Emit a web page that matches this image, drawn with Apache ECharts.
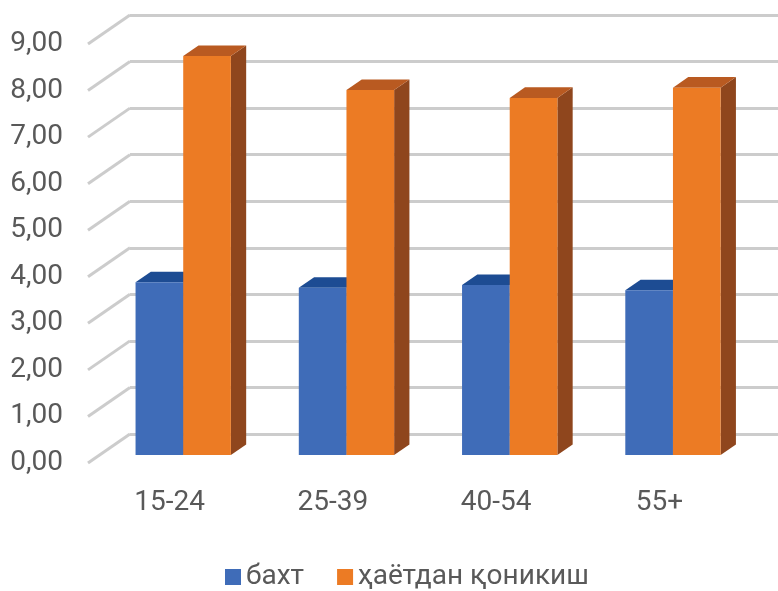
<!DOCTYPE html>
<html>
<head>
<meta charset="utf-8">
<script src="https://cdn.jsdelivr.net/npm/echarts@6/dist/echarts.min.js"></script>
<style>html,body{margin:0;padding:0;background:#fff;}#c{width:778px;height:591px;}</style>
</head>
<body>
<div id="c"></div>
<script>
const categories = ['15-24', '25-39', '40-54', '55+'];
const seriesNames = ['бахт', 'ҳаётдан қоникиш'];
const bakht = [3.71, 3.59, 3.65, 3.54];
const satisfaction = [8.57, 7.84, 7.67, 7.89];
const yTicks = [0, 1, 2, 3, 4, 5, 6, 7, 8, 9];

// 3D projection constants (layout)
const DX = 42, DY = -29;   // full depth offset from front floor to back wall
const F0 = 0.276, F1 = 0.64; // bar depth span as fraction of total depth
const BAR_FRAC = 0.292;      // bar width as fraction of category band
const BAR_SHIFT = 2;

const FONT = 'Roboto';
const TXT = '#595959';

const palettes = [
  { front: '#3f6cb8', top: '#1d4c93', side: '#2b5291' },
  { front: '#ec7b24', top: '#b95a21', side: '#8f461d' }
];

function barRender(idx) {
  const pal = palettes[idx];
  return function (params, api) {
    const cat = api.value(0), v = api.value(1);
    const c0 = api.coord([cat, 0]);
    const c1 = api.coord([cat, v]);
    const band = api.size([1, 0])[0];
    const w = band * BAR_FRAC;
    const x0 = c0[0] + (idx === 0 ? -w : 0) + DX * F0 + BAR_SHIFT;
    const yb = c0[1] + DY * F0;
    const yt = c1[1] + DY * F0;
    const ddx = DX * (F1 - F0), ddy = DY * (F1 - F0);
    return {
      type: 'group',
      children: [
        { type: 'polygon', shape: { points: [[x0 + w, yt], [x0 + w + ddx, yt + ddy], [x0 + w + ddx, yb + ddy], [x0 + w, yb]] }, style: { fill: pal.side } },
        { type: 'polygon', shape: { points: [[x0, yt], [x0 + w, yt], [x0 + w + ddx, yt + ddy], [x0 + ddx, yt + ddy]] }, style: { fill: pal.top } },
        { type: 'rect', shape: { x: x0, y: yt, width: w, height: yb - yt }, style: { fill: pal.front } }
      ]
    };
  };
}

function diagRender(params, api) {
  const v = api.value(0);
  const p = api.coord([0, v]);
  const x = params.coordSys.x;
  return {
    type: 'line',
    shape: { x1: x, y1: p[1], x2: x + DX, y2: p[1] + DY },
    style: { stroke: '#cccccc', lineWidth: 3 }
  };
}

const chart = echarts.init(document.getElementById('c'));
chart.setOption({
  animation: false,
  backgroundColor: '#fff',
  textStyle: { fontFamily: FONT },
  legend: {
    data: seriesNames,
    left: 220, top: 558,
    icon: 'rect', itemWidth: 16, itemHeight: 16, itemGap: 33,
    textStyle: { fontSize: 28, color: TXT, fontFamily: FONT }
  },
  grid: [
    { left: 88, right: 37, top: 44, bottom: 128 },
    { left: 130, right: -5, top: 15, bottom: 157 }
  ],
  xAxis: [
    { type: 'category', gridIndex: 0, data: categories,
      axisLine: { show: false }, axisTick: { show: false },
      axisLabel: { fontSize: 28, color: TXT, margin: 26, fontFamily: FONT } },
    { type: 'category', gridIndex: 1, data: categories, show: false }
  ],
  yAxis: [
    { type: 'value', gridIndex: 0, min: 0, max: 9, interval: 1,
      axisLine: { show: false }, axisTick: { show: false }, splitLine: { show: false },
      axisLabel: { fontSize: 28, color: TXT, margin: 25, fontFamily: FONT,
        formatter: v => v.toFixed(2).replace('.', ',') } },
    { type: 'value', gridIndex: 1, min: 0, max: 9, interval: 1,
      axisLine: { show: false }, axisTick: { show: false }, axisLabel: { show: false },
      splitLine: { show: true, lineStyle: { color: '#cccccc', width: 3 } } }
  ],
  series: [
    { type: 'custom', name: 'walls', xAxisIndex: 0, yAxisIndex: 0, z: 1,
      data: yTicks.map(v => [v]), encode: { y: 0 }, renderItem: diagRender, silent: true },
    { type: 'custom', name: seriesNames[0], xAxisIndex: 0, yAxisIndex: 0, z: 3,
      itemStyle: { color: '#3f6cb8' },
      data: bakht.map((v, i) => [i, v]), encode: { x: 0, y: 1 }, renderItem: barRender(0) },
    { type: 'custom', name: seriesNames[1], xAxisIndex: 0, yAxisIndex: 0, z: 4,
      itemStyle: { color: '#ec7b24' },
      data: satisfaction.map((v, i) => [i, v]), encode: { x: 0, y: 1 }, renderItem: barRender(1) }
  ]
});
</script>
</body>
</html>
